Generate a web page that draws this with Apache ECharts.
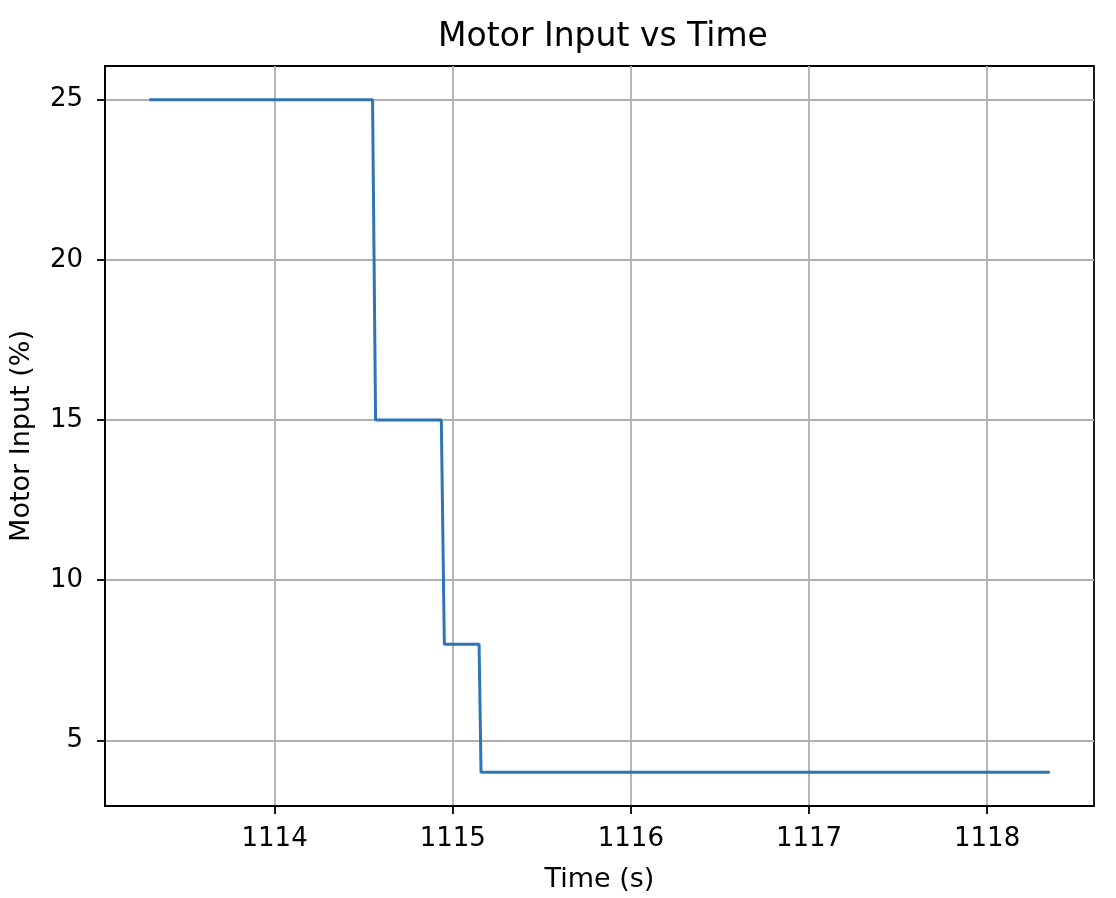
<!DOCTYPE html>
<html><head><meta charset="utf-8">
<script src="https://cdn.jsdelivr.net/npm/echarts@6/dist/echarts.min.js"></script>
<style>html,body{margin:0;padding:0;background:#fff}#c{width:1116px;height:898px}</style>
</head><body><div id="c"></div>
<script>
const times = [1113.296, 1114.550, 1114.567, 1114.936, 1114.953, 1115.148, 1115.159, 1118.352];
const motorInput = [25, 25, 15, 15, 8, 8, 4, 4];
const xTicks = [1114, 1115, 1116, 1117, 1118];
const yTicks = [5, 10, 15, 20, 25];

const chart = echarts.init(document.getElementById('c'));
const font = 'DejaVu Sans';
chart.setOption({
  animation: false,
  title: {text: 'Motor Input vs Time', left: 598, textAlign: 'center', top: 16,
    textStyle: {fontFamily: font, fontSize: 33, fontWeight: 'normal', color: '#000'}},
  grid: {left: 103, right: 22, top: 66, bottom: 92, show: true, borderColor: '#000', borderWidth: 1.8},
  xAxis: {type: 'value', min: 1113.048, max: 1118.6,
    name: 'Time (s)', nameLocation: 'middle', nameGap: 60,
    nameTextStyle: {fontFamily: font, fontSize: 27, color: '#000'},
    axisLine: {show: true, lineStyle: {color: '#000', width: 1.8}},
    axisTick: {show: true, customValues: xTicks, length: 8, lineStyle: {color: '#000', width: 1.8}},
    axisLabel: {customValues: xTicks, formatter: v => String(v), fontFamily: font, fontSize: 26, color: '#000', margin: 20},
    splitLine: {show: true, lineStyle: {color: '#b0b0b0', width: 1.8}}},
  yAxis: {type: 'value', min: 2.95, max: 26.05,
    name: 'Motor Input (%)', nameLocation: 'middle', nameGap: 70,
    nameTextStyle: {fontFamily: font, fontSize: 27, color: '#000'},
    axisLine: {show: true, lineStyle: {color: '#000', width: 1.8}},
    axisTick: {show: true, customValues: yTicks, length: 8, lineStyle: {color: '#000', width: 1.8}},
    axisLabel: {customValues: yTicks, formatter: v => String(v), fontFamily: font, fontSize: 26, color: '#000', margin: 22},
    splitLine: {show: true, lineStyle: {color: '#b0b0b0', width: 1.8}}},
  series: [{type: 'line', data: times.map((t, i) => [t, motorInput[i]]),
    showSymbol: false, lineStyle: {color: '#2f75b5', width: 3}}]
});
</script></body></html>
